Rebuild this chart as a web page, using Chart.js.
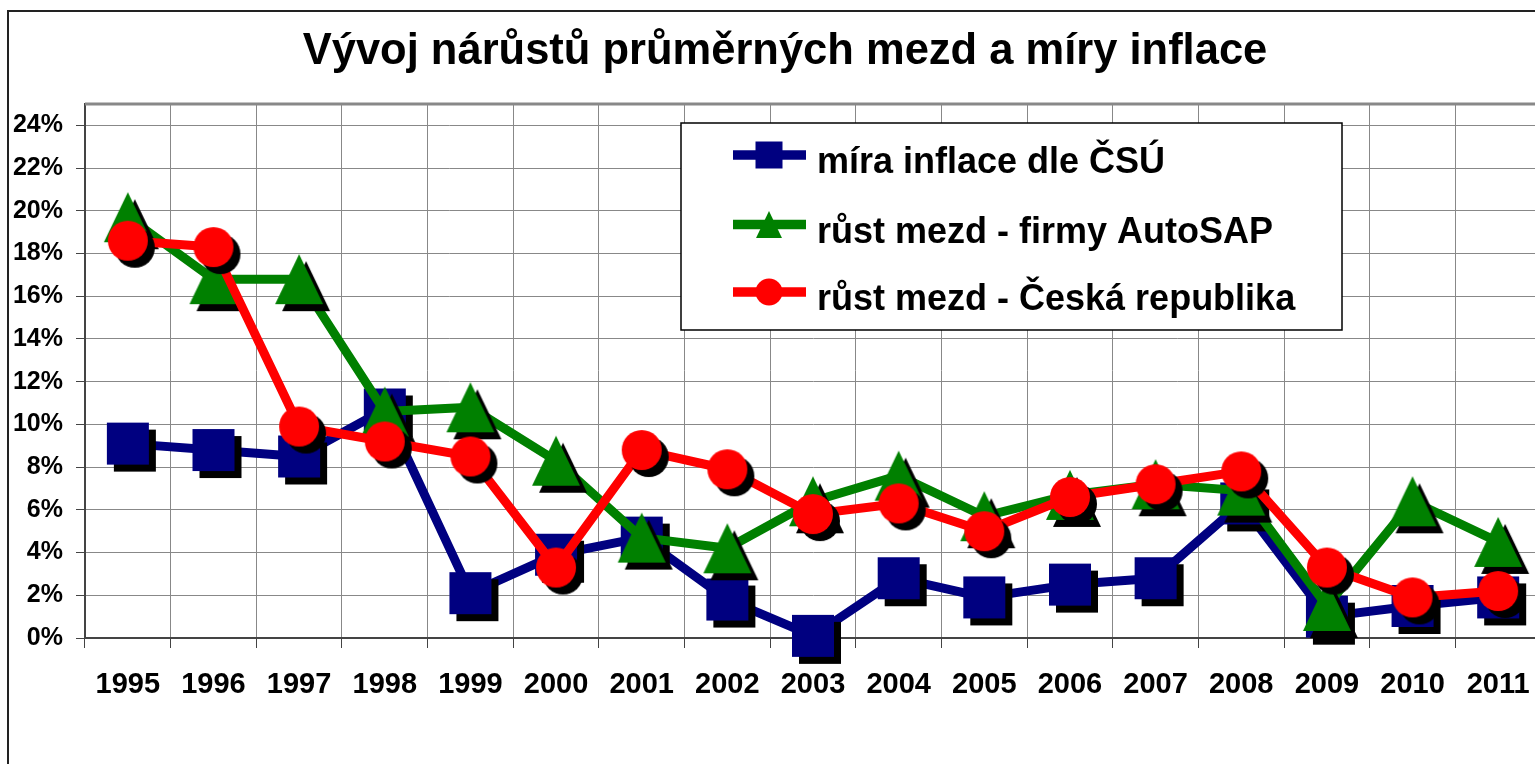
<!DOCTYPE html>
<html>
<head>
<meta charset="utf-8">
<title>Vývoj nárůstů průměrných mezd a míry inflace</title>
<script src="https://cdn.jsdelivr.net/npm/chart.js@4.4.1/dist/chart.umd.min.js"></script>
<style>
    html, body { margin: 0; padding: 0; background: #fff; overflow: hidden; }
    #wrap { width: 1535px; height: 764px; overflow: hidden; }
    canvas { display: block; }
</style>
</head>
<body>
<div id="wrap"><canvas id="wageChart" width="1570" height="764"></canvas></div>
<script>
// ===============================
// DATA
// ===============================
const years = ["1995", "1996", "1997", "1998", "1999", "2000", "2001", "2002", "2003",
               "2004", "2005", "2006", "2007", "2008", "2009", "2010", "2011"];

// míra inflace dle ČSÚ (%)
const inflation = [9.1, 8.8, 8.5, 10.7, 2.1, 3.9, 4.7, 1.8, 0.1, 2.8, 1.9, 2.5, 2.8, 6.3, 1.0, 1.5, 1.9];

// růst mezd - firmy AutoSAP (%)
const autosapWages = [19.7, 16.8, 16.8, 10.6, 10.8, 8.3, 4.7, 4.2, 6.4, 7.6, 5.7, 6.7, 7.2, 6.9, 1.5, 6.4, 4.5];

// růst mezd - Česká republika (%)
const czWages = [18.6, 18.3, 9.9, 9.2, 8.5, 3.3, 8.8, 7.9, 5.8, 6.3, 5.0, 6.6, 7.2, 7.8, 3.3, 1.9, 2.2];

const seriesNames = ["míra inflace dle ČSÚ", "růst mezd - firmy AutoSAP", "růst mezd - Česká republika"];
const chartTitle = "Vývoj nárůstů průměrných mezd a míry inflace";

// ===============================
// STYLE
// ===============================
const COLORS = ["#000080", "#008000", "#ff0000"];
const SHAPES = ["square", "triangle", "circle"];
const FONT = "'Liberation Sans', Arial, sans-serif";

// ===============================
// MARKERS (shape + black drop shadow)
// ===============================
function drawShape(g, shape, cx, cy, size) {
    g.beginPath();
    if (shape === "square") {
        g.rect(cx - size / 2, cy - size / 2, size, size);
    } else if (shape === "triangle") {
        g.moveTo(cx, cy - size / 2);
        g.lineTo(cx + size * 0.48, cy + size / 2);
        g.lineTo(cx - size * 0.48, cy + size / 2);
        g.closePath();
    } else {
        g.arc(cx, cy, size / 2, 0, Math.PI * 2);
    }
    g.fill();
}

function makeMarker(shape, color, size, shadow) {
    const c = document.createElement("canvas");
    c.width = 80;
    c.height = 80;
    const g = c.getContext("2d");
    g.fillStyle = "#000";
    drawShape(g, shape, 40 + shadow, 40 + shadow, size);
    g.fillStyle = color;
    drawShape(g, shape, 40, 40, size);
    return c;
}

const markerSizes = { square: 42, triangle: 50, circle: 40 };
const markers = SHAPES.map((s, i) => makeMarker(s, COLORS[i], markerSizes[s], 7));

// ===============================
// PLUGINS
// ===============================
const framePlugin = {
    id: "frame",
    beforeDraw(chart) {
        const ctx = chart.ctx;
        ctx.save();
        ctx.fillStyle = "#fff";
        ctx.fillRect(0, 0, chart.width, chart.height);
        ctx.strokeStyle = "#222";
        ctx.lineWidth = 2;
        ctx.strokeRect(8, 11, chart.width - 16, chart.height + 20);

        // title, centred on the whole chart box
        ctx.fillStyle = "#000";
        ctx.font = "bold 43.5px " + FONT;
        ctx.textAlign = "center";
        ctx.textBaseline = "alphabetic";
        ctx.fillText(chartTitle, chart.width / 2, 64);
        ctx.restore();
    },
    beforeDatasetsDraw(chart) {
        const a = chart.chartArea;
        const ctx = chart.ctx;
        ctx.save();
        ctx.strokeStyle = "#888";
        ctx.lineWidth = 3;
        ctx.beginPath();
        ctx.moveTo(a.left, a.top);
        ctx.lineTo(a.right, a.top);
        ctx.lineTo(a.right, a.bottom);
        ctx.stroke();
        ctx.restore();
    }
};

const legendBoxPlugin = {
    id: "legendBox",
    afterDatasetsDraw(chart) {
        const ctx = chart.ctx;
        const box = { x: 681, y: 123, w: 661, h: 207 };
        const rows = [155, 224.5, 292];
        ctx.save();
        ctx.fillStyle = "#fff";
        ctx.fillRect(box.x, box.y, box.w, box.h);
        ctx.strokeStyle = "#000";
        ctx.lineWidth = 1.5;
        ctx.strokeRect(box.x, box.y, box.w, box.h);

        seriesNames.forEach((name, i) => {
            const y = rows[i];
            ctx.strokeStyle = COLORS[i];
            ctx.lineWidth = 9.5;
            ctx.beginPath();
            ctx.moveTo(733, y);
            ctx.lineTo(806, y);
            ctx.stroke();
            ctx.fillStyle = COLORS[i];
            drawShape(ctx, SHAPES[i], 769, y, 27);

            ctx.fillStyle = "#000";
            ctx.font = "bold 36px " + FONT;
            ctx.textBaseline = "alphabetic";
            ctx.textAlign = "left";
            ctx.fillText(name, 817, y + 18);
        });
        ctx.restore();
    }
};

// ===============================
// CHART
// ===============================
const datasets = [inflation, autosapWages, czWages].map((values, i) => ({
    label: seriesNames[i],
    data: values,
    borderColor: COLORS[i],
    backgroundColor: COLORS[i],
    borderWidth: 9,
    borderJoinStyle: "round",
    tension: 0,
    pointStyle: markers[i],
    pointRadius: 20,
    order: 3 - i,
    clip: false
}));

const ctx = document.getElementById("wageChart").getContext("2d");

new Chart(ctx, {
    type: "line",
    data: { labels: years, datasets: datasets },
    options: {
        responsive: false,
        animation: false,
        events: [],
        layout: { padding: { left: 0, right: 27, top: 104, bottom: 0 } },
        plugins: {
            legend: { display: false },
            tooltip: { enabled: false },
            title: { display: false }
        },
        scales: {
            x: {
                offset: true,
                grid: { offset: true, color: "#888", lineWidth: 1, tickLength: 10, tickColor: "#444" },
                border: { color: "#444", width: 2 },
                ticks: {
                    color: "#000",
                    font: { family: FONT, size: 29, weight: "bold" },
                    padding: 20,
                    autoSkip: false,
                    maxRotation: 0
                },
                afterFit: (scale) => { scale.height = 126; }
            },
            y: {
                min: 0,
                max: 25,
                grid: { color: "#888", lineWidth: 1, tickLength: 9, tickColor: "#444" },
                border: { color: "#444", width: 2 },
                ticks: {
                    stepSize: 2,
                    includeBounds: false,
                    color: "#000",
                    font: { family: FONT, size: 25, weight: "bold" },
                    padding: 13,
                    callback: (v) => v + "%"
                },
                afterFit: (scale) => { scale.width = 85; }
            }
        }
    },
    plugins: [framePlugin, legendBoxPlugin]
});
</script>
</body>
</html>
